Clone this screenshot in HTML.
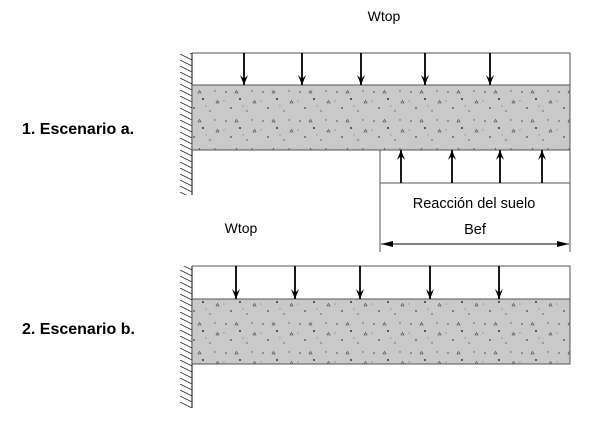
<!DOCTYPE html>
<html><head><style>body{margin:0;background:#fff}svg{display:block}</style></head><body>
<svg width="607" height="426" viewBox="0 0 607 426" xmlns="http://www.w3.org/2000/svg" font-family="Liberation Sans, sans-serif">
<defs>
<pattern id="hatch" width="12" height="6" patternUnits="userSpaceOnUse"><line x1="0" y1="0" x2="12" y2="6" stroke="#333" stroke-width="0.8"/></pattern>
<pattern id="dots" width="37" height="29" patternUnits="userSpaceOnUse">
<rect width="37" height="29" fill="#c9c9c9"/>
<circle cx="4" cy="5" r="0.8" fill="#444"/><circle cx="18" cy="12" r="1" fill="#333"/><circle cx="30" cy="4" r="0.7" fill="#555"/>
<circle cx="9" cy="21" r="0.9" fill="#444"/><circle cx="25" cy="24" r="0.7" fill="#555"/><path d="M13 6 l3 0 l-1.5 -2.5z" fill="none" stroke="#444" stroke-width="0.6"/>
<path d="M31 16 l3 0 l-1.5 -2.5z" fill="none" stroke="#444" stroke-width="0.6"/><circle cx="21" cy="19" r="0.5" fill="#555"/><circle cx="2" cy="14" r="0.5" fill="#555"/>
</pattern>
<marker id="ah" markerWidth="10" markerHeight="8" refX="10" refY="4" orient="auto" markerUnits="userSpaceOnUse"><path d="M0 0 L10 4 L0 8 L4 4z" fill="#000"/></marker>
<marker id="dh" markerWidth="12" markerHeight="6" refX="12" refY="3" orient="auto-start-reverse" markerUnits="userSpaceOnUse"><path d="M0 0 L12 3 L0 6z" fill="#000"/></marker>
</defs>
<text x="384" y="21" font-size="14" text-anchor="middle">Wtop</text>
<text x="22" y="134" font-size="16" font-weight="bold">1. Escenario a.</text>
<text x="22" y="334" font-size="16" font-weight="bold">2. Escenario b.</text>
<text x="241" y="233" font-size="14" text-anchor="middle">Wtop</text>
<text x="474" y="208" font-size="14.5" text-anchor="middle">Reacción del suelo</text>
<text x="475" y="234" font-size="14.5" text-anchor="middle">Bef</text>
<!-- scenario a -->
<rect x="180" y="53" width="12" height="142" fill="url(#hatch)"/>
<line x1="192" y1="53" x2="192" y2="195" stroke="#333" stroke-width="1.2"/>
<rect x="192" y="85" width="378" height="65" fill="url(#dots)" stroke="#555" stroke-width="1"/>
<polyline points="192,53 570,53 570,85" fill="none" stroke="#555"/>
<polyline points="380,150 380,183 570,183 570,150" fill="none" stroke="#555"/>
<g stroke="#000" stroke-width="1.8" marker-end="url(#ah)">
<line x1="244" y1="53" x2="244" y2="85"/><line x1="302" y1="53" x2="302" y2="85"/><line x1="361" y1="53" x2="361" y2="85"/><line x1="425" y1="53" x2="425" y2="85"/><line x1="490" y1="53" x2="490" y2="85"/>
<line x1="401" y1="183" x2="401" y2="150"/><line x1="452" y1="183" x2="452" y2="150"/><line x1="500" y1="183" x2="500" y2="150"/><line x1="542" y1="183" x2="542" y2="150"/>
</g>
<line x1="380" y1="183" x2="380" y2="252" stroke="#555"/><line x1="570" y1="183" x2="570" y2="252" stroke="#555"/>
<line x1="381" y1="244" x2="569" y2="244" stroke="#000" stroke-width="1" marker-start="url(#dh)" marker-end="url(#dh)"/>
<!-- scenario b -->
<rect x="180" y="266" width="12" height="142" fill="url(#hatch)"/>
<line x1="192" y1="266" x2="192" y2="408" stroke="#333" stroke-width="1.2"/>
<rect x="192" y="299" width="378" height="65" fill="url(#dots)" stroke="#555" stroke-width="1"/>
<polyline points="192,266 570,266 570,299" fill="none" stroke="#555"/>
<g stroke="#000" stroke-width="1.8" marker-end="url(#ah)">
<line x1="236" y1="266" x2="236" y2="299"/><line x1="295" y1="266" x2="295" y2="299"/><line x1="360" y1="266" x2="360" y2="299"/><line x1="430" y1="266" x2="430" y2="299"/><line x1="499" y1="266" x2="499" y2="299"/>
</g>
</svg>
</body></html>
